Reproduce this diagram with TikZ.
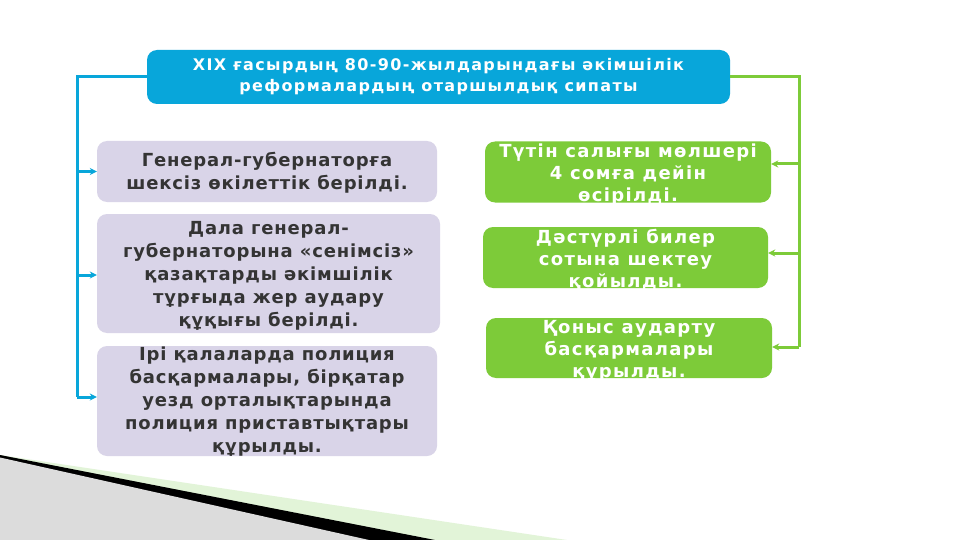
\documentclass[tikz,border=0pt]{standalone}
\usepackage{fontspec}
\setmainfont{DejaVu Sans}
\newfontfamily\titlefont[LetterSpace=8.5]{DejaVu Sans}
\newfontfamily\lfont[LetterSpace=4.5]{DejaVu Sans}
\newfontfamily\rfont[LetterSpace=7.5]{DejaVu Sans}
\usetikzlibrary{arrows.meta}
\definecolor{tblue}{RGB}{8,166,218}
\definecolor{lav}{RGB}{217,212,232}
\definecolor{lgreen}{RGB}{125,203,57}
\definecolor{dtext}{RGB}{52,52,52}
\definecolor{pgreen}{RGB}{226,244,216}
\definecolor{pgrey}{RGB}{220,220,220}
\tikzset{
  titlebox/.style={fill=tblue, rounded corners=10pt, inner sep=0pt},
  lbox/.style={fill=lav, rounded corners=10pt, inner sep=0pt},
  rbox/.style={fill=lgreen, rounded corners=10pt, inner sep=0pt},
  ttext/.style={text=white, align=center, font=\titlefont\bfseries\fontsize{16}{21}\selectfont},
  ltext/.style={text=dtext, align=center, font=\lfont\bfseries\fontsize{18}{23}\selectfont},
  rtext/.style={text=white, align=center, font=\rfont\bfseries\fontsize{18}{22}\selectfont},
  bline/.style={draw=tblue, line width=3pt},
  gline/.style={draw=lgreen, line width=3pt},
  barrow/.style={bline, -{Stealth[length=7pt,width=7pt]}},
  garrow/.style={gline, -{Stealth[length=7pt,width=7pt]}},
}
\begin{document}
\begin{tikzpicture}[x=1pt,y=-1pt]
\useasboundingbox (0,0) rectangle (960,540);
\fill[white] (0,0) rectangle (960,540);
% bottom-left decoration
\fill[pgreen] (0,455) -- (567,540) -- (0,540) -- cycle;
\fill[black] (0,455) -- (435,540) -- (0,540) -- cycle;
\fill[pgrey] (0,457.5) -- (369,540) -- (0,540) -- cycle;
% title
\node[titlebox, minimum width=583pt, minimum height=54pt] (t) at (438.5,77) {};
\node[ttext] (tt) at (t.center) {XIX ғасырдың 80-90-жылдарындағы әкімшілік\\реформалардың отаршылдық сипаты};
% left boxes
\node[lbox, minimum width=340pt, minimum height=61pt] (l1) at (267,171.5) {};
\node[ltext] (l1t) at ([yshift=-1.5pt]l1.center) {Генерал-губернаторға\\шексіз өкілеттік берілді.};
\node[lbox, minimum width=343pt, minimum height=119pt] (l2) at (268.5,273.5) {};
\node[ltext] (l2t) at ([yshift=-2.5pt]l2.center) {Дала генерал-\\губернаторына «сенімсіз»\\қазақтарды әкімшілік\\тұрғыда жер аудару\\құқығы берілді.};
\node[lbox, minimum width=340pt, minimum height=110pt] (l3) at (267,401) {};
\node[ltext] (l3t) at ([yshift=-1pt]l3.center) {Ірі қалаларда полиция\\басқармалары, бірқатар\\уезд орталықтарында\\полиция приставтықтары\\құрылды.};
% right boxes
\node[rbox, minimum width=286pt, minimum height=61pt] (r1) at (628,172) {};
\node[rtext] (r1t) at ([yshift=-3pt]r1.center) {Түтін салығы мөлшері\\4 сомға дейін\\өсірілді.};
\node[rbox, minimum width=285pt, minimum height=61pt] (r2) at (625.5,257.5) {};
\node[rtext] (r2t) at ([yshift=-2pt]r2.center) {Дәстүрлі билер\\сотына шектеу\\қойылды.};
\node[rbox, minimum width=286pt, minimum height=60pt] (r3) at (629,348) {};
\node[rtext] (r3t) at ([yshift=-3pt]r3.center) {Қоныс аударту\\басқармалары\\құрылды.};
% connectors left
\coordinate (lc) at (77,77);
\coordinate (ld) at (77,397);
\draw[bline] (t.west) -- (lc) -- (ld);
\draw[barrow] (lc |- l1.west) -- (l1.west);
\draw[barrow] ([yshift=-1.5pt]lc |- l2.west) -- ([yshift=-1.5pt]l2.west);
\draw[barrow] (ld) -- (ld -| l3.west);
% connectors right
\coordinate (rc) at (799,77);
\coordinate (rd) at (799,347);
\draw[gline] (t.east) -- (rc) -- (rd);
\draw[garrow] ([yshift=8pt]rc |- r1.east) -- ([yshift=8pt]r1.east);
\draw[garrow] ([yshift=4.5pt]rc |- r2.east) -- ([yshift=4.5pt]r2.east);
\draw[garrow] (rd) -- (rd -| r3.east);
\end{tikzpicture}
\end{document}
